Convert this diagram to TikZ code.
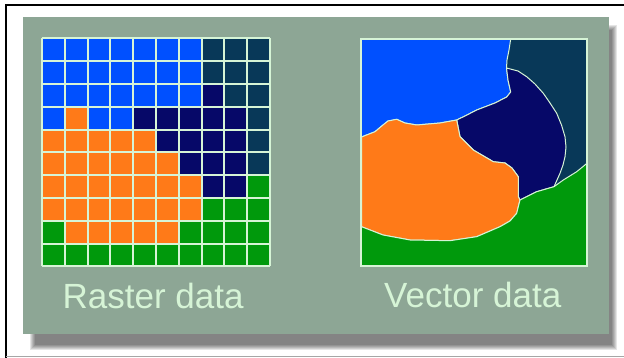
\documentclass[tikz,border=0pt]{standalone}
\usepackage{fontspec}
\setmainfont{Liberation Sans}
\definecolor{panel}{HTML}{8DA695}
\definecolor{mint}{HTML}{D6F4D6}
\definecolor{rB}{HTML}{0050FF}
\definecolor{rT}{HTML}{083858}
\definecolor{rN}{HTML}{060868}
\definecolor{rO}{HTML}{FF7A18}
\definecolor{rG}{HTML}{00990C}
\tikzset{
  region/.style={draw=mint, line width=1pt, line join=round},
  label/.style={anchor=base west, text=mint, font=\fontsize{35}{40}\selectfont, inner sep=0pt},
}
\begin{document}
\begin{tikzpicture}[x=1pt,y=-1pt]
\useasboundingbox (0,0) rectangle (624,358);
\fill[white] (0,0) rectangle (624,358);
% frame
\draw[black, line width=2pt] (624,5) -- (6,5) -- (6,358);
\draw[gray!70, line width=1pt] (6,356) -- (624,356);
% shadow
\foreach \d in {0,1,2,3,4,5}
  \fill[black, opacity=0.1] (30+\d,25+\d) rectangle (617-\d,350-\d);
% panel
\fill[panel] (22.7,17.3) rectangle (609.3,334.3);
% raster grid
\foreach \row [count=\r from 0] in {
  {B,B,B,B,B,B,B,T,T,T},
  {B,B,B,B,B,B,B,T,T,T},
  {B,B,B,B,B,B,B,N,T,T},
  {B,O,B,B,N,N,N,N,N,T},
  {O,O,O,O,O,N,N,N,N,T},
  {O,O,O,O,O,O,N,N,N,T},
  {O,O,O,O,O,O,O,N,N,G},
  {O,O,O,O,O,O,O,G,G,G},
  {G,O,O,O,O,O,G,G,G,G},
  {G,G,G,G,G,G,G,G,G,G}}
  \foreach \c [count=\k from 0] in \row
    \fill[color=r\c] (42+22.8*\k,38.5+22.8*\r) rectangle ++(22.8,22.8);
\foreach \i in {0,...,10} {
  \draw[mint, line width=2pt] (42+22.8*\i,38.5) -- (42+22.8*\i,266.5);
  \draw[mint, line width=2pt] (42,38.5+22.8*\i) -- (270,38.5+22.8*\i);
}
% vector data
\fill[rT] (361,39) rectangle (587,266);
\filldraw[region, fill=rB] (361,39) -- (510.7,39) -- (509,50) -- (507,60) -- (506.5,68) -- (508,80) -- (510.7,92)
  -- (506.7,97) -- (495,103) -- (476.7,110) -- (465,116) -- (456.7,120) -- (440,123) -- (416.7,125)
  -- (405,123) -- (396.7,119.3) -- (388,121) -- (383,125) -- (375,131.7) -- (361.5,137) -- cycle;
\filldraw[region, fill=rN] (506.5,68) -- (518,71) -- (526.7,76.7) -- (535,84) -- (543.3,93.3) -- (550,103)
  -- (556.7,113.3) -- (561.5,125) -- (565,136.7) -- (566,147) -- (565,156.7) -- (563,165) -- (560,173.3)
  -- (554,186.7) -- (536.7,191.7) -- (523.3,198.3) -- (520,200) -- (518.3,196.7) -- (518.3,176.7)
  -- (512,168) -- (505,163) -- (493.3,161.7) -- (473.3,150) -- (460,136.7) -- (456.7,120)
  -- (465,116) -- (476.7,110) -- (495,103) -- (506.7,97) -- (510.7,92) -- (508,80) -- cycle;
\filldraw[region, fill=rO] (361.5,137) -- (375,131.7) -- (383,125) -- (388,121) -- (396.7,119.3) -- (405,123)
  -- (416.7,125) -- (440,123) -- (456.7,120) -- (460,136.7) -- (473.3,150) -- (493.3,161.7) -- (505,163)
  -- (512,168) -- (518.3,176.7) -- (518.3,196.7) -- (520,200) -- (518,208) -- (516.7,213.3) -- (510,221)
  -- (500,226.7) -- (476.7,236.7) -- (450,240.7) -- (410,240) -- (383,235) -- (361.5,226.7) -- cycle;
\filldraw[region, fill=rG] (361.5,226.7) -- (383,235) -- (410,240) -- (450,240.7) -- (476.7,236.7) -- (500,226.7)
  -- (510,221) -- (516.7,213.3) -- (518,208) -- (520,200) -- (523.3,198.3) -- (536.7,191.7) -- (554,186.7)
  -- (563.3,180) -- (576.7,171.7) -- (587,163.3) -- (587,266) -- (361,266) -- cycle;
\draw[mint, line width=1.5pt] (361,39) rectangle (587,266);
% labels
\node[label] (raster) at (62.5,308) {Raster data};
\node[label] (vector) at (384,307) {Vector data};
\end{tikzpicture}
\end{document}
